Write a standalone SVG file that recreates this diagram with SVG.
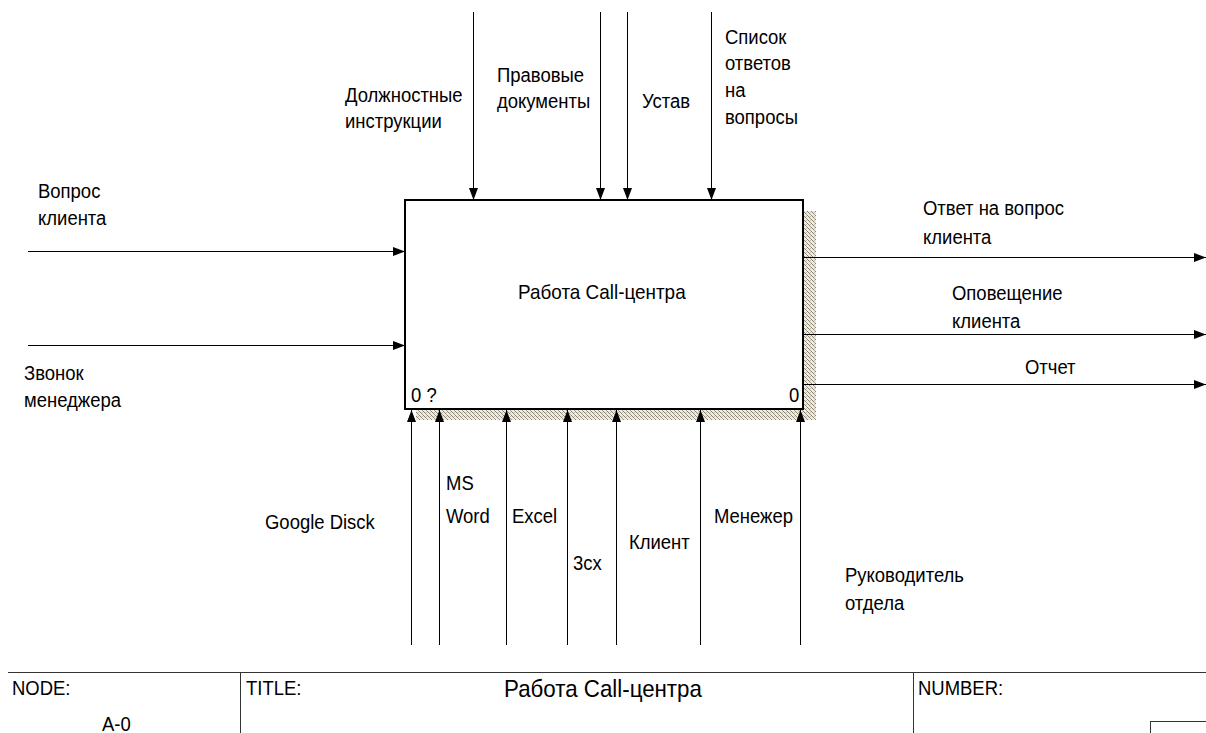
<svg xmlns="http://www.w3.org/2000/svg" width="1206" height="733" viewBox="0 0 1206 733">
<style>
text{font-family:"Liberation Sans",Arial,sans-serif;font-size:21px;fill:#000}
.ln{stroke:#000;stroke-width:1;fill:none}
.fr{stroke:#333;stroke-width:1;fill:none}
</style>
<defs>
<pattern id="hatch" width="4" height="4" patternUnits="userSpaceOnUse">
<rect width="4" height="4" fill="#eeebe2"/>
<rect x="0" y="0" width="1" height="1" fill="#8a8474"/>
<rect x="1" y="1" width="1" height="1" fill="#8a8474"/>
<rect x="2" y="2" width="1" height="1" fill="#a8a292"/>
<rect x="3" y="3" width="1" height="1" fill="#8a8474"/>
<rect x="2" y="0" width="1" height="1" fill="#c4beb0"/>
</pattern>
<marker id="ah" markerUnits="userSpaceOnUse" markerWidth="12" markerHeight="10" refX="12" refY="4.5" orient="auto">
<path d="M0,0 L12,4.5 L0,9 z" fill="#000"/>
</marker>
</defs>
<rect width="1206" height="733" fill="#fff"/>

<g id="node-A0">
<rect x="416" y="211" width="400" height="209" fill="url(#hatch)"/>
<rect x="405" y="200" width="398" height="209" fill="#fff" stroke="#000" stroke-width="2"/>
<text transform="matrix(0.9,0,0,1,518,299)">Работа Call-центра</text>
<text transform="matrix(0.88,0,0,1,411,402)">0 ?</text>
<text transform="matrix(0.88,0,0,1,789,402)">0</text>
</g>

<g id="connectors">
<line class="ln" x1="473.5" y1="12" x2="473.5" y2="200" marker-end="url(#ah)"/>
<line class="ln" x1="600.5" y1="12" x2="600.5" y2="200" marker-end="url(#ah)"/>
<line class="ln" x1="627.5" y1="12" x2="627.5" y2="200" marker-end="url(#ah)"/>
<line class="ln" x1="711.5" y1="12" x2="711.5" y2="200" marker-end="url(#ah)"/>
<line class="ln" x1="28" y1="251.5" x2="405" y2="251.5" marker-end="url(#ah)"/>
<line class="ln" x1="28" y1="345.5" x2="405" y2="345.5" marker-end="url(#ah)"/>
<line class="ln" x1="804" y1="257.5" x2="1206" y2="257.5" marker-end="url(#ah)"/>
<line class="ln" x1="804" y1="334.5" x2="1206" y2="334.5" marker-end="url(#ah)"/>
<line class="ln" x1="804" y1="384.5" x2="1206" y2="384.5" marker-end="url(#ah)"/>
<line class="ln" x1="411.5" y1="645" x2="411.5" y2="410" marker-end="url(#ah)"/>
<line class="ln" x1="439.5" y1="645" x2="439.5" y2="410" marker-end="url(#ah)"/>
<line class="ln" x1="506.5" y1="645" x2="506.5" y2="410" marker-end="url(#ah)"/>
<line class="ln" x1="567.5" y1="645" x2="567.5" y2="410" marker-end="url(#ah)"/>
<line class="ln" x1="616.5" y1="645" x2="616.5" y2="410" marker-end="url(#ah)"/>
<line class="ln" x1="700.5" y1="645" x2="700.5" y2="410" marker-end="url(#ah)"/>
<line class="ln" x1="800.5" y1="645" x2="800.5" y2="410" marker-end="url(#ah)"/>
</g>

<g id="labels">
<text transform="matrix(0.88,0,0,1,345,102)">Должностные<tspan x="0" y="26">инструкции</tspan></text>
<text transform="matrix(0.88,0,0,1,497,82)">Правовые<tspan x="0" y="26">документы</tspan></text>
<text transform="matrix(0.88,0,0,1,642,108)">Устав</text>
<text transform="matrix(0.88,0,0,1,725,44)">Список<tspan x="0" y="26">ответов</tspan><tspan x="0" y="53">на</tspan><tspan x="0" y="80">вопросы</tspan></text>
<text transform="matrix(0.88,0,0,1,38,198)">Вопрос<tspan x="0" y="27">клиента</tspan></text>
<text transform="matrix(0.88,0,0,1,24,380)">Звонок<tspan x="0" y="27">менеджера</tspan></text>
<text transform="matrix(0.88,0,0,1,923,215)">Ответ на вопрос<tspan x="0" y="29">клиента</tspan></text>
<text transform="matrix(0.88,0,0,1,952,300)">Оповещение<tspan x="0" y="28">клиента</tspan></text>
<text transform="matrix(0.88,0,0,1,1025,374)">Отчет</text>
<text transform="matrix(0.88,0,0,1,265,529)">Google Disck</text>
<text transform="matrix(0.88,0,0,1,446,490)">MS<tspan x="0" y="33">Word</tspan></text>
<text transform="matrix(0.88,0,0,1,512,523)">Excel</text>
<text transform="matrix(0.88,0,0,1,573,570)">3cx</text>
<text transform="matrix(0.88,0,0,1,629,549)">Клиент</text>
<text transform="matrix(0.88,0,0,1,714,523)">Менежер</text>
<text transform="matrix(0.88,0,0,1,845,582)">Руководитель<tspan x="0" y="28">отдела</tspan></text>
</g>

<g id="frame">
<line class="fr" x1="8" y1="672.5" x2="1206" y2="672.5"/>
<line class="fr" x1="240.5" y1="672" x2="240.5" y2="733"/>
<line class="fr" x1="913.5" y1="672" x2="913.5" y2="733"/>
<rect class="fr" x="1150.5" y="721.5" width="60" height="20"/>
<text transform="matrix(0.88,0,0,1,12,695)">NODE:</text>
<text transform="matrix(0.88,0,0,1,102,731)">A-0</text>
<text transform="matrix(0.88,0,0,1,246,695)">TITLE:</text>
<text transform="matrix(0.93,0,0,1,504,697)" style="font-size:24px">Работа Call-центра</text>
<text transform="matrix(0.88,0,0,1,918,695)">NUMBER:</text>
</g>
</svg>
